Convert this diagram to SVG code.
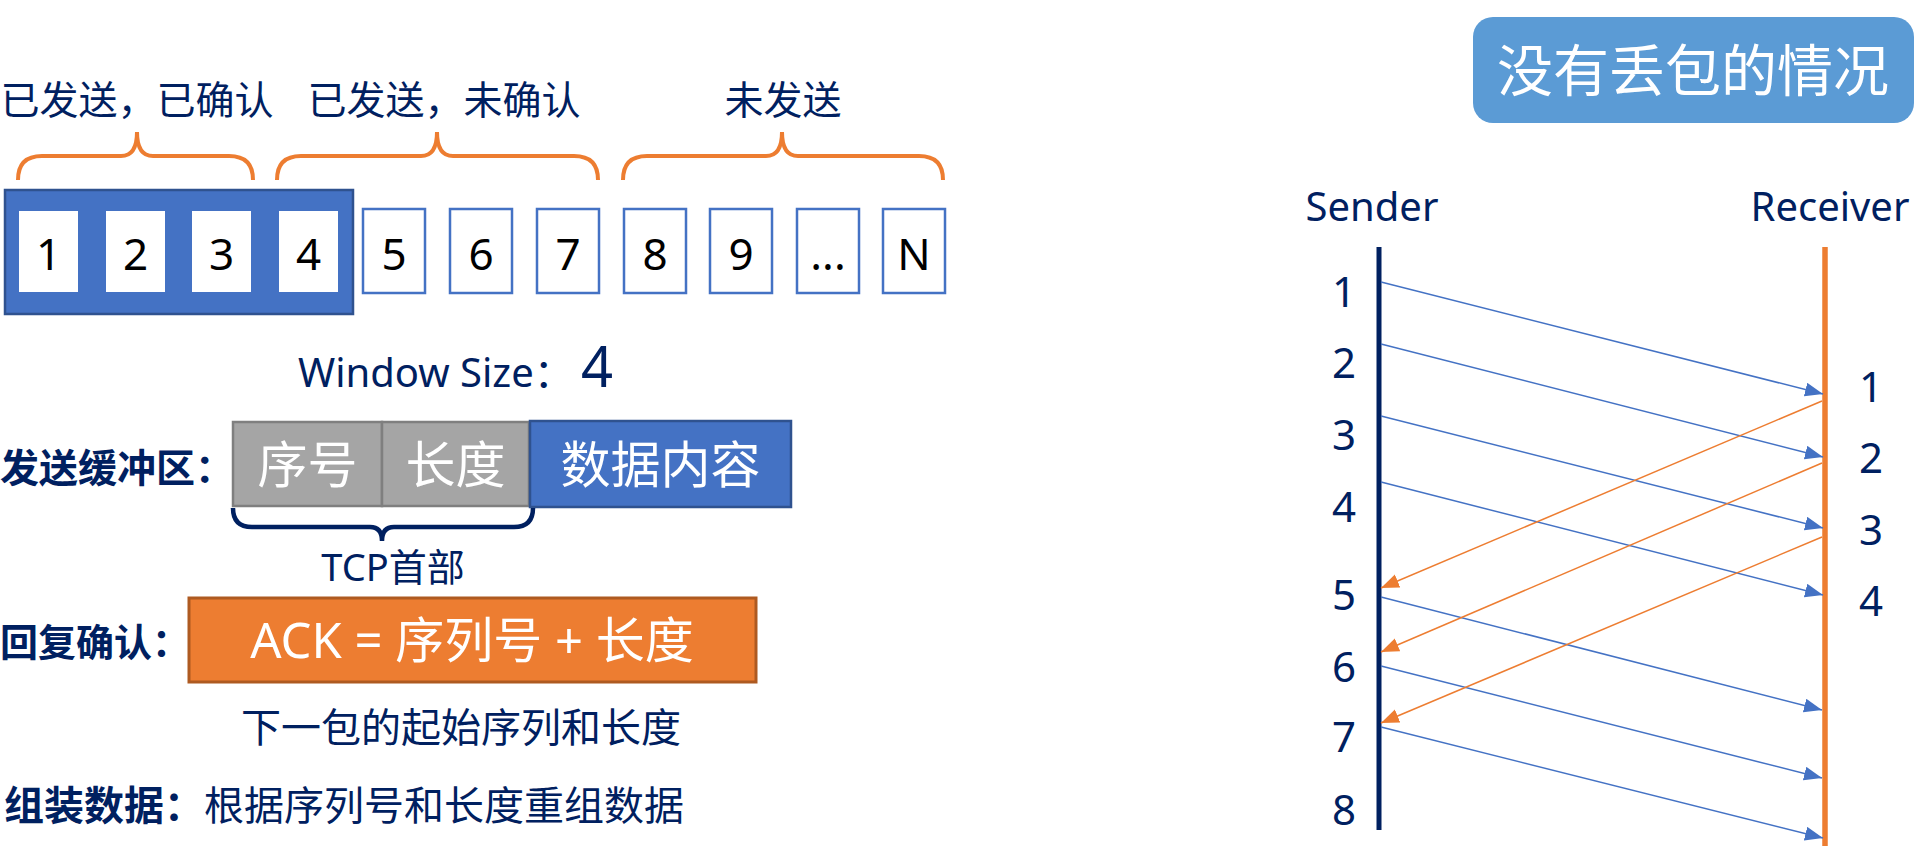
<svg xmlns="http://www.w3.org/2000/svg" width="1916" height="864" viewBox="0 0 1916 864">
<style>
  text { font-family: "Noto Sans", "Noto Sans CJK SC", sans-serif; fill: #002060; }
  .lbl { font-size: 39px; text-anchor: middle; }
  .num { font-size: 44px; fill: #000; text-anchor: middle; }
  .wbox { fill: #fff; }
  .obox { fill: #fff; stroke: #4472C4; stroke-width: 2.5; }
  .brace-o { fill: none; stroke: #ED7D31; stroke-width: 4; }
  .brace-n { fill: none; stroke: #002060; stroke-width: 4.5; }
  .wt { fill: #fff; text-anchor: middle; }
  .bold { font-weight: bold; }
  .seq { font-size: 42px; text-anchor: middle; }
  .blue { stroke: #4472C4; stroke-width: 1.5; fill: none; marker-end: url(#ah-blue); }
  .orange { stroke: #ED7D31; stroke-width: 1.5; fill: none; marker-end: url(#ah-orange); }
</style>
<defs>
  <marker id="ah-blue" markerUnits="userSpaceOnUse" markerWidth="20" markerHeight="16" refX="18" refY="7" orient="auto">
    <path d="M0,0 L18,7 L0,14 z" fill="#4472C4"/>
  </marker>
  <marker id="ah-orange" markerUnits="userSpaceOnUse" markerWidth="20" markerHeight="16" refX="18" refY="7" orient="auto">
    <path d="M0,0 L18,7 L0,14 z" fill="#ED7D31"/>
  </marker>
</defs>
<rect width="1916" height="864" fill="#fff"/>

<g id="label-acked"><text class="lbl" x="137" y="114">已发送，已确认</text></g>
<g id="label-unacked"><text class="lbl" x="444" y="114">已发送，未确认</text></g>
<g id="label-unsent"><text class="lbl" x="783" y="114">未发送</text></g>

<g id="braces-top">
  <path class="brace-o" d="M18 180 Q18 156 42 156 L121 156 Q137 156 137 132 Q137 156 153 156 L229 156 Q253 156 253 180"/>
  <path class="brace-o" d="M277 180 Q277 156 301 156 L421 156 Q437 156 437 132 Q437 156 453 156 L574 156 Q598 156 598 180"/>
  <path class="brace-o" d="M623 180 Q623 156 647 156 L766 156 Q782 156 782 132 Q782 156 798 156 L919 156 Q943 156 943 180"/>
</g>

<g id="window">
  <rect x="5" y="190" width="348" height="124" fill="#4472C4" stroke="#2F528F" stroke-width="2.5"/>
</g>
<g id="box-1"><rect class="wbox" x="19" y="211" width="59" height="81"/><text class="num" x="48.5" y="270">1</text></g>
<g id="box-2"><rect class="wbox" x="106" y="211" width="59" height="81"/><text class="num" x="135.5" y="270">2</text></g>
<g id="box-3"><rect class="wbox" x="192" y="211" width="59" height="81"/><text class="num" x="221.5" y="270">3</text></g>
<g id="box-4"><rect class="wbox" x="279" y="211" width="59" height="81"/><text class="num" x="308.5" y="270">4</text></g>
<g id="box-5"><rect class="obox" x="363" y="209" width="62" height="84"/><text class="num" x="394" y="270">5</text></g>
<g id="box-6"><rect class="obox" x="450" y="209" width="62" height="84"/><text class="num" x="481" y="270">6</text></g>
<g id="box-7"><rect class="obox" x="537" y="209" width="62" height="84"/><text class="num" x="568" y="270">7</text></g>
<g id="box-8"><rect class="obox" x="624" y="209" width="62" height="84"/><text class="num" x="655" y="270">8</text></g>
<g id="box-9"><rect class="obox" x="710" y="209" width="62" height="84"/><text class="num" x="741" y="270">9</text></g>
<g id="box-dots"><rect class="obox" x="797" y="209" width="62" height="84"/><text class="num" x="828" y="270">...</text></g>
<g id="box-N"><rect class="obox" x="883" y="209" width="62" height="84"/><text class="num" x="914" y="270">N</text></g>

<g id="window-size"><text x="298" y="387" font-size="40">Window Size：<tspan x="581" font-size="56">4</tspan></text></g>

<g id="send-buffer-label"><text class="bold" x="0" y="482" font-size="39">发送缓冲区：</text></g>
<g id="seq-field"><rect x="233" y="422" width="149" height="84" fill="#A5A5A5" stroke="#7F7F7F" stroke-width="2.5"/><text class="wt" x="307.5" y="483" font-size="50">序号</text></g>
<g id="len-field"><rect x="382" y="422" width="147" height="84" fill="#A5A5A5" stroke="#7F7F7F" stroke-width="2.5"/><text class="wt" x="455.5" y="483" font-size="50">长度</text></g>
<g id="data-field"><rect x="530" y="421" width="261" height="86" fill="#4472C4" stroke="#2F528F" stroke-width="2.5"/><text class="wt" x="660.5" y="483" font-size="50">数据内容</text></g>
<g id="tcp-brace"><path class="brace-n" d="M233 508 Q233 527 252 527 L370 527 Q382 527 382 541 Q382 527 394 527 L514 527 Q533 527 533 508"/></g>
<g id="tcp-label"><text x="393" y="581" font-size="38" text-anchor="middle">TCP首部</text></g>

<g id="ack-label"><text class="bold" x="0" y="656" font-size="38">回复确认：</text></g>
<g id="ack-box"><rect x="189" y="598" width="567" height="84" fill="#ED7D31" stroke="#AE5A21" stroke-width="3"/><text class="wt" x="472" y="658" font-size="49">ACK = 序列号 + 长度</text></g>
<g id="ack-note"><text x="461" y="742" font-size="40" text-anchor="middle">下一包的起始序列和长度</text></g>
<g id="reassemble"><text x="4" y="820" font-size="40"><tspan class="bold">组装数据：</tspan>根据序列号和长度重组数据</text></g>

<g id="title"><rect x="1473" y="17" width="441" height="106" rx="20" fill="#5B9BD5"/><text class="wt" x="1693" y="91" font-size="56">没有丢包的情况</text></g>

<g id="sender"><text x="1372" y="221" font-size="40" text-anchor="middle">Sender</text><line x1="1379" y1="247" x2="1379" y2="830" stroke="#002060" stroke-width="5"/>
  <text class="seq" x="1344" y="307">1</text>
  <text class="seq" x="1344" y="378">2</text>
  <text class="seq" x="1344" y="450">3</text>
  <text class="seq" x="1344" y="522">4</text>
  <text class="seq" x="1344" y="610">5</text>
  <text class="seq" x="1344" y="682">6</text>
  <text class="seq" x="1344" y="752">7</text>
  <text class="seq" x="1344" y="825">8</text>
</g>
<g id="receiver"><text x="1830" y="221" font-size="40" text-anchor="middle">Receiver</text><line x1="1825" y1="247" x2="1825" y2="846" stroke="#ED7D31" stroke-width="5.5"/>
  <text class="seq" x="1871" y="402">1</text>
  <text class="seq" x="1871" y="473">2</text>
  <text class="seq" x="1871" y="545">3</text>
  <text class="seq" x="1871" y="616">4</text>
</g>

<g id="connectors">
  <line class="blue" x1="1381" y1="282" x2="1823" y2="394"/>
  <line class="blue" x1="1381" y1="344" x2="1823" y2="457"/>
  <line class="blue" x1="1381" y1="416" x2="1823" y2="528"/>
  <line class="blue" x1="1381" y1="482" x2="1823" y2="595"/>
  <line class="blue" x1="1381" y1="597" x2="1822" y2="710"/>
  <line class="blue" x1="1381" y1="666" x2="1822" y2="778"/>
  <line class="blue" x1="1381" y1="727" x2="1823" y2="838"/>
  <line class="orange" x1="1822" y1="401" x2="1381" y2="588"/>
  <line class="orange" x1="1822" y1="463" x2="1381" y2="652"/>
  <line class="orange" x1="1822" y1="537" x2="1381" y2="723"/>
</g>
</svg>
